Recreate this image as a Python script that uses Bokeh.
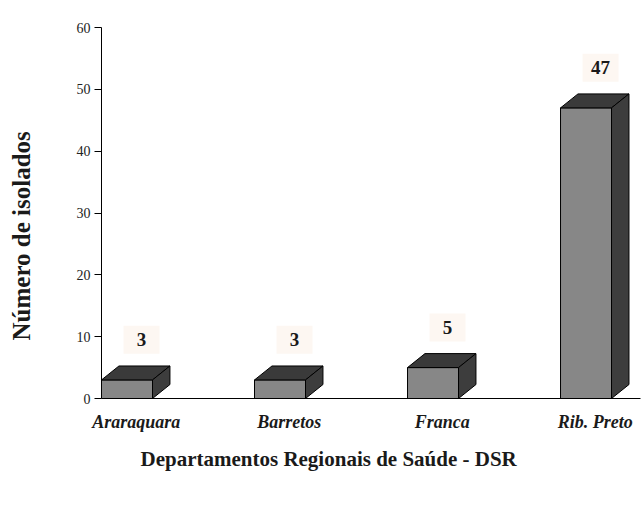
import math
from bokeh.plotting import figure
from bokeh.models import Range1d, FixedTicker, ColumnDataSource, Title, LinearAxis
from bokeh.core.properties import value
from bokeh.embed import file_html
from bokeh.resources import INLINE

categories = ["Araraquara", "Barretos", "Franca", "Rib. Preto"]
counts = [3, 3, 5, 47]
y_ticks = [0, 10, 20, 30, 40, 50, 60]
x_title = "Departamentos Regionais de Saúde - DSR"
y_title = "Número de isolados"

# style constants
HALF = 1 / 6          # half width of the front face (data units)
DX = 0.114            # depth offset in x (data units)
DY = 2.26             # depth offset in y (data units)
LAB_DX = 0.095
LAB_DY = 6.5
SERIF = "Liberation Serif"

pos = list(range(len(categories)))

p = figure(width=644, height=510, output_backend="svg", toolbar_location=None,
           x_range=Range1d(-0.1667, 3.356), y_range=Range1d(0, 60),
           min_border_left=101, min_border_right=4, min_border_top=27,
           min_border_bottom=112)
p.xgrid.visible = False
p.ygrid.visible = False
p.outline_line_color = None
p.background_fill_color = "white"
p.border_fill_color = "white"

front = ColumnDataSource(dict(left=[x - HALF for x in pos], right=[x + HALF for x in pos],
                              top=counts, bottom=[0] * len(pos)))
p.quad(left="left", right="right", top="top", bottom="bottom", source=front,
       fill_color="#878787", line_color="black", line_width=1)

top_xs = [[x - HALF, x - HALF + DX, x + HALF + DX, x + HALF] for x in pos]
top_ys = [[v, v + DY, v + DY, v] for v in counts]
p.patches(top_xs, top_ys, fill_color="#3a3a3a", line_color="black", line_width=1)

side_xs = [[x + HALF, x + HALF + DX, x + HALF + DX, x + HALF] for x in pos]
side_ys = [[0, DY, v + DY, v] for v in counts]
p.patches(side_xs, side_ys, fill_color="#3d3d3d", line_color="black", line_width=1)

lab_x = [x + LAB_DX for x in pos]
lab_y = [v + LAB_DY for v in counts]
p.rect(lab_x, lab_y, width=36, height=28, width_units="screen", height_units="screen",
       fill_color="#fdf7f2", line_color=None)
p.text(lab_x, lab_y, text=[str(v) for v in counts], text_align="center",
       text_baseline="middle", text_font=value(SERIF), text_font_style="bold",
       text_font_size="19px", text_color="#1a1a1a")

# y axis
ya = p.yaxis[0]
ya.ticker = FixedTicker(ticks=y_ticks)
ya.major_tick_out = 7
ya.major_tick_in = 0
ya.minor_tick_out = 0
ya.minor_tick_in = 0
ya.axis_line_color = "black"
ya.major_tick_line_color = "black"
ya.major_label_text_font = SERIF
ya.major_label_text_font_size = "14px"
ya.major_label_text_color = "#222222"
ya.major_label_standoff = 4

# x axis
xa = p.xaxis[0]
tick_pos = [x + 0.06 for x in pos]
xa.ticker = FixedTicker(ticks=tick_pos)
xa.major_label_overrides = {t: c for t, c in zip(tick_pos, categories)}
xa.major_tick_out = 0
xa.major_tick_in = 0
xa.minor_tick_out = 0
xa.minor_tick_in = 0
xa.axis_line_color = "black"
xa.major_label_text_font = SERIF
xa.major_label_text_font_style = "bold italic"
xa.major_label_text_font_size = "18px"
xa.major_label_text_color = "#1a1a1a"
xa.major_label_standoff = 13

p.add_layout(Title(text=x_title, align="left", offset=39, standoff=20,
                   text_font=SERIF, text_font_style="bold", text_font_size="21px",
                   text_color="#1a1a1a"), "below")

# blank spacer between the y axis and its title (white tick on white border)
spacer = LinearAxis(ticker=FixedTicker(ticks=[0]), axis_line_color=None,
                    major_tick_out=38, major_tick_in=0, major_tick_line_color="white",
                    minor_tick_out=0, minor_tick_in=0, minor_tick_line_color=None,
                    major_label_overrides={0: ""}, major_label_standoff=0)
p.add_layout(spacer, "left")
p.add_layout(Title(text=y_title, align="left", offset=58, standoff=0, vertical_align="middle",
                   text_font=SERIF, text_font_style="bold", text_font_size="25px",
                   text_color="#1a1a1a"), "left")

open("out.html", "w").write(file_html(p, INLINE))
